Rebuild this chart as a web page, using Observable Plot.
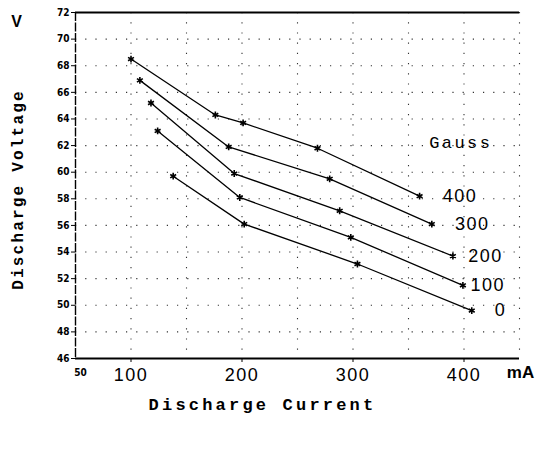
<!DOCTYPE html>
<html>
<head>
<meta charset="utf-8">
<script src="https://cdn.jsdelivr.net/npm/d3@7"></script>
<script src="https://cdn.jsdelivr.net/npm/@observablehq/plot@0.6"></script>
<style>
  html, body { margin: 0; padding: 0; background: #fff; }
  #chart svg { display: block; }
</style>
</head>
<body>
<div id="chart"></div>
<script>
// Magnetic field strengths (Gauss) for each curve
const gaussLevels = [400, 300, 200, 100, 0];

// Discharge current (mA) and voltage (V), per curve
const current400 = [100, 176, 201, 268, 360];
const voltage400 = [68.5, 64.3, 63.7, 61.8, 58.2];

const current300 = [108, 188, 279, 371];
const voltage300 = [66.9, 61.9, 59.5, 56.1];

const current200 = [118, 193, 288, 390];
const voltage200 = [65.2, 59.9, 57.1, 53.7];

const current100 = [124, 198, 298, 399];
const voltage100 = [63.1, 58.1, 55.1, 51.5];

const current0 = [138, 202, 304, 407];
const voltage0 = [59.7, 56.1, 53.1, 49.6];

// Axis ticks
const xMajorTicks = [100, 200, 300, 400];
const xOriginTick = [50];
const xGridTicks = [100, 150, 200, 250, 300, 350, 400, 450];
const yTicks = [46, 48, 50, 52, 54, 56, 58, 60, 62, 64, 66, 68, 70, 72];

// Curve label anchor positions (data coordinates)
const labelX = [379, 390, 402, 404, 426];

const seriesCurrents = [current400, current300, current200, current100, current0];
const seriesVoltages = [voltage400, voltage300, voltage200, voltage100, voltage0];

const points = [];
gaussLevels.forEach((g, i) => {
  seriesCurrents[i].forEach((c, j) => {
    points.push({gauss: g, current: c, voltage: seriesVoltages[i][j]});
  });
});
const labels = gaussLevels.map((g, i) => ({
  gauss: String(g),
  current: labelX[i],
  voltage: seriesVoltages[i][seriesVoltages[i].length - 1]
}));

const chart = Plot.plot({
  width: 540,
  height: 451,
  marginLeft: 75,
  marginRight: 21,
  marginTop: 12,
  marginBottom: 93,
  style: {background: "#fff", color: "#000", overflow: "visible"},
  x: {domain: [50, 450], axis: null},
  y: {domain: [46, 72], axis: null},
  marks: [
    // dotted grid
    Plot.ruleX(xGridTicks, {stroke: "#333", strokeWidth: 1.1, strokeDasharray: "1.2,9"}),
    Plot.ruleY(yTicks.slice(1, -1), {stroke: "#333", strokeWidth: 1.1, strokeDasharray: "1.2,9"}),
    // frame lines
    Plot.ruleY([72], {stroke: "#000", strokeWidth: 2}),
    Plot.ruleY([46], {stroke: "#000", strokeWidth: 2}),
    Plot.ruleX([50], {stroke: "#000", strokeWidth: 1.4, strokeDasharray: "9,1.5"}),
    // y axis
    Plot.axisY({
      ticks: yTicks, tickSize: 4, tickPadding: 2,
      fontSize: 10, fontWeight: "bold", fontFamily: "DejaVu Sans Condensed, DejaVu Sans",
      label: null, stroke: "#000"
    }),
    // x axis
    Plot.axisX({
      ticks: xMajorTicks, tickSize: 4, tickPadding: 6,
      fontSize: 18, fontFamily: "Liberation Sans", label: null
    }),
    Plot.text(xOriginTick, {
      x: d => d, y: [46], dx: 5, dy: 14,
      fontSize: 10, fontWeight: "bold", fontFamily: "DejaVu Sans Condensed, DejaVu Sans", fill: "#000"
    }),
    // curves
    Plot.line(points, {x: "current", y: "voltage", z: "gauss", stroke: "#000", strokeWidth: 1.3}),
    Plot.dot(points, {x: "current", y: "voltage", symbol: "asterisk", r: 3.2, stroke: "#000", strokeWidth: 1.6}),
    // curve labels
    Plot.text(labels, {
      x: "current", y: "voltage", text: "gauss", textAnchor: "start", dx: 2,
      fontSize: 18, fontFamily: "Liberation Sans", fill: "#000"
    }),
    Plot.text(["Gauss"], {
      x: [368.7], y: [62.2], textAnchor: "start",
      fontSize: 17, fontFamily: "Liberation Mono", fill: "#000"
    }),
    // unit labels
    Plot.text(["V"], {frameAnchor: "top-left", textAnchor: "middle", dx: -59, dy: 3, fontSize: 16, fontWeight: "bold", fontFamily: "Liberation Sans", fill: "#000"}),
    Plot.text(["mA"], {frameAnchor: "bottom-right", textAnchor: "middle", dx: 1, dy: 19, fontSize: 17, fontWeight: "bold", fontFamily: "Liberation Sans", fill: "#000"}),
    // axis titles
    Plot.text(["Discharge Current"], {
      frameAnchor: "bottom", textAnchor: "middle", dx: -35, dy: 51,
      fontSize: 17, fontWeight: "bold", fontFamily: "Liberation Mono", fill: "#000"
    }),
    Plot.text(["Discharge Voltage"], {
      frameAnchor: "left", textAnchor: "middle", dx: -58, dy: 4, rotate: -90,
      fontSize: 16, fontWeight: "bold", fontFamily: "Liberation Mono", fill: "#000"
    })
  ]
});

// letter spacing to match the wide typewriter lettering
const spacing = {"Discharge Current": 3.2, "Discharge Voltage": 2.2, "Gauss": 2.4,
  "100": 1.5, "200": 1.5, "300": 1.5, "400": 1.5};
d3.select(chart).selectAll("text").each(function() {
  const s = spacing[this.textContent];
  if (s !== undefined) d3.select(this).attr("letter-spacing", s);
});

document.getElementById("chart").appendChild(chart);
</script>
</body>
</html>
